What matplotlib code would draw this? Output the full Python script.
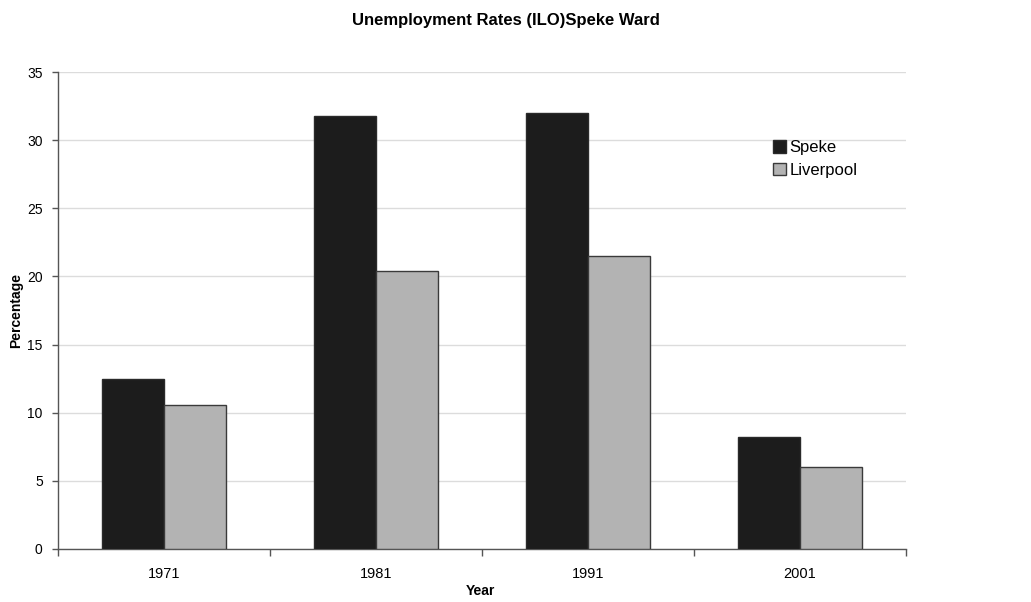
import numpy as np
import matplotlib
matplotlib.use('Agg')
import matplotlib.pyplot as plt

# dados
anos = ['1971', '1981', '1991', '2001']
speke = [12.5, 31.8, 32.0, 8.2]
liverpool = [10.6, 20.4, 21.5, 6.0]
yticks = [0, 5, 10, 15, 20, 25, 30, 35]

plt.rcParams['font.family'] = ['Liberation Sans', 'DejaVu Sans']

fig = plt.figure(figsize=(10.31, 6.02), dpi=100)
ax = fig.add_axes([58 / 1031, 53 / 602, 848 / 1031, 477 / 602])

x = np.arange(len(anos))
larg = 0.292
ax.bar(x - larg / 2, speke, larg, color='#1c1c1c', edgecolor='#2a2a2a',
       linewidth=1, label='Speke', zorder=3)
ax.bar(x + larg / 2, liverpool, larg, color='#b3b3b3', edgecolor='#3a3a3a',
       linewidth=1, label='Liverpool', zorder=3)

ax.set_xlim(-0.5, len(anos) - 0.5)
ax.set_ylim(0, 35)
ax.set_yticks(yticks)
ax.yaxis.grid(True, color='#dcdcdc', linewidth=1, zorder=0)

# ticks de categoria nas divisões
ax.set_xticks(x)
ax.set_xticklabels(anos, fontsize=10.5)
ax.set_xticks(np.arange(-0.5, len(anos)), minor=True)
ax.tick_params(axis='x', which='major', length=0, pad=13)
ax.tick_params(axis='x', which='minor', length=5, color='#555555', width=1)
ax.tick_params(axis='y', length=4, color='#555555', width=1, pad=7, labelsize=10)

for lado in ['top', 'right']:
    ax.spines[lado].set_visible(False)
for lado in ['left', 'bottom']:
    ax.spines[lado].set_color('#555555')
    ax.spines[lado].set_linewidth(1)

fig.text(506 / 1031, 1 - 20 / 602, 'Unemployment Rates (ILO)Speke Ward', ha='center',
         va='center', fontsize=12, fontweight='bold')
fig.text(480 / 1031, 1 - 591 / 602, 'Year', ha='center', va='center',
         fontsize=10, fontweight='bold')
fig.text(16 / 1031, 1 - 311 / 602, 'Percentage', ha='center', va='center',
         rotation=90, fontsize=10, fontweight='bold')

leg = ax.legend(loc='upper left', bbox_to_anchor=(765 / 1031, 1 - 132 / 602),
                bbox_transform=fig.transFigure, frameon=False, fontsize=12,
                handlelength=0.75, handleheight=0.75, handletextpad=0.2,
                labelspacing=0.45, borderpad=0)

fig.savefig('out.png', dpi=100)
